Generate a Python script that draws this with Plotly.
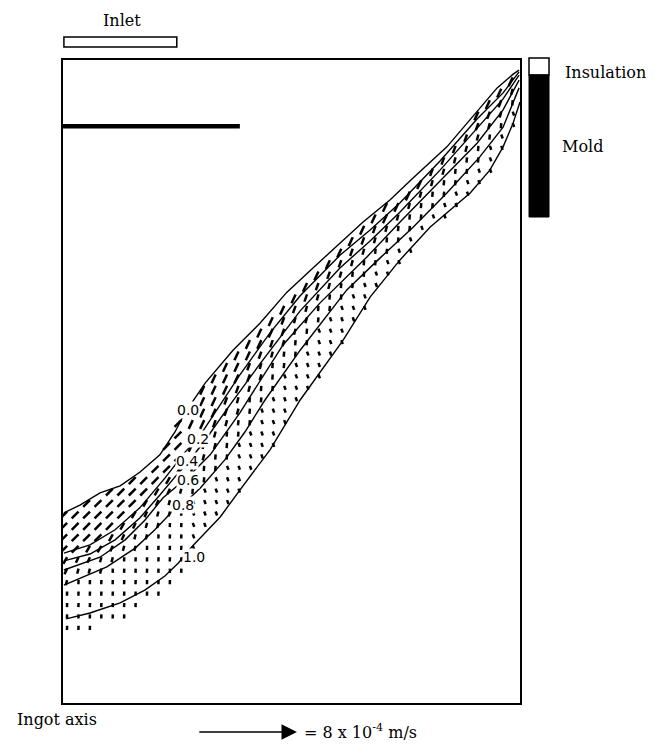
import numpy as np
import plotly.graph_objects as go

# Geometry: r = radial position (% of ingot radius, 0 = ingot axis, 100 = mold wall)
#           z = height (same units as r)
R_MAX = 100.0
Z_MAX = 140.7

# Solid-fraction isolines (liquidus 0.0 at top to solidus 1.0 at bottom)
r00 = [0.2, 3.7, 8.1, 12.5, 16.8, 21.2, 24.5, 26.7, 31.1, 37.2, 43.1, 49.0, 54.7,
       60.6, 65.6, 71.6, 76.6, 84.0, 90.6, 95.0, 98.5, 99.8]
z00 = [41.6, 43.3, 46.0, 47.5, 50.5, 54.3, 59.3, 63.5, 70.0, 77.2, 83.1, 89.9, 95.2,
       100.7, 105.2, 110.1, 114.9, 121.7, 129.3, 134.6, 137.6, 138.5]

r02 = [0.2, 5.9, 11.4, 16.8, 22.3, 26.7, 29.5, 33.3, 38.7, 45.3, 51.9, 60.6, 67.2,
       73.7, 82.5, 90.6, 96.3, 99.8]
z02 = [32.8, 34.6, 37.9, 42.7, 49.2, 54.9, 57.8, 63.7, 71.8, 81.0, 89.1, 98.0, 103.5,
       109.4, 118.6, 127.8, 133.5, 138.1]

r04 = [0.2, 5.9, 11.4, 16.8, 21.2, 24.7, 27.1, 31.1, 36.5, 43.1, 51.9, 60.6, 67.2,
       73.7, 82.5, 90.6, 96.3, 99.8]
z04 = [31.1, 32.6, 35.7, 40.5, 45.5, 49.7, 52.3, 57.5, 65.2, 74.2, 85.8, 95.2, 101.1,
       107.4, 116.6, 125.8, 132.2, 137.4]

r06 = [0.2, 8.1, 13.6, 17.9, 21.9, 25.2, 27.4, 32.2, 38.7, 48.1, 56.2, 66.5, 73.7,
       82.5, 90.6, 96.3, 99.8]
z06 = [29.1, 31.9, 35.7, 40.0, 44.9, 47.7, 49.5, 54.3, 63.5, 78.3, 87.5, 97.6, 105.2,
       114.2, 122.5, 129.8, 136.3]

r08 = [0.2, 9.6, 15.8, 20.1, 23.8, 26.3, 30.0, 35.4, 39.8, 44.2, 51.9, 62.1, 69.4,
       76.6, 84.0, 91.2, 96.3, 99.8]
z08 = [25.8, 29.8, 33.9, 37.9, 41.8, 43.5, 47.0, 53.2, 59.3, 66.3, 77.2, 90.4, 97.4,
       104.1, 111.6, 119.5, 126.0, 134.6]

r10 = [0.7, 5.9, 12.5, 17.9, 22.3, 25.2, 28.4, 34.4, 38.7, 45.3, 51.9, 61.3, 67.2,
       73.7, 80.3, 89.1, 93.4, 96.3, 98.5, 100.0]
z10 = [18.4, 19.7, 21.9, 24.7, 27.8, 30.6, 34.4, 40.7, 46.6, 55.4, 66.3, 79.4, 88.8,
       96.9, 104.1, 111.6, 116.6, 121.7, 126.9, 131.5]

fraction_labels = ["0.0", "0.2", "0.4", "0.6", "0.8", "1.0"]
label_r = [27.4, 29.5, 27.1, 27.4, 26.3, 28.6]
label_z = [64.1, 57.8, 52.9, 48.8, 43.3, 31.9]

contours = [(r00, z00), (r02, z02), (r04, z04), (r06, z06), (r08, z08), (r10, z10)]

# Interdendritic velocity, per band between neighbouring isolines
# (speed in 1e-4 m/s, flow direction in degrees from +r)
band_speed = [0.78, 0.62, 0.5, 0.42, 0.34]
foot_angle = [225, 240, 245, 255, 268]   # near the ingot axis
diag_angle = [245, 250, 255, 265, 290]   # along the inclined mushy zone
FOOT_R = 27.0         # radius separating the two regions
FOOT_EXTRA = 3.0      # vectors shown slightly below the solidus near the axis

# Computational mesh
MESH_R0, MESH_Z0, MESH_D = 0.9, 1.9, 2.5

# Reference vector: 8e-4 m/s ; VEC_SCALE = axis units per 1e-4 m/s
REF_SPEED = 8.0
VEC_SCALE = 2.71
REF_TAIL_R = 29.5

# Inlet and top bar (radial extents)
inlet_r = [0.2, 24.9]
top_bar_r = [0.0, 38.7]
top_bar_z = 126.2

fig = go.Figure()

for rr, zz in contours:
    fig.add_trace(go.Scatter(x=rr, y=zz, mode="lines",
                             line=dict(color="black", width=1.4),
                             hoverinfo="skip", showlegend=False))

# velocity vectors on the mesh nodes inside the mushy zone
vx, vy = [], []
r_nodes = np.arange(MESH_R0, R_MAX, MESH_D)
z_nodes = np.arange(MESH_Z0, Z_MAX, MESH_D)
for r in r_nodes:
    zc = [np.interp(r, rr, zz) for rr, zz in contours]
    for z in z_nodes:
        if z > zc[0]:
            continue
        band = None
        for b in range(5):
            if zc[b + 1] < z <= zc[b]:
                band = b
        if band is None:
            if r < FOOT_R and zc[5] - z < FOOT_EXTRA:
                band = 4
            else:
                continue
        ang = np.radians((foot_angle if r < FOOT_R else diag_angle)[band])
        L = band_speed[band] * VEC_SCALE
        vx += [r, r + L * np.cos(ang), None]
        vy += [z, z + L * np.sin(ang), None]

fig.add_trace(go.Scatter(x=vx, y=vy, mode="lines",
                         line=dict(color="black", width=2.5),
                         hoverinfo="skip", showlegend=False))

# thick bar near the top of the domain
fig.add_trace(go.Scatter(x=top_bar_r, y=[top_bar_z, top_bar_z], mode="lines",
                         line=dict(color="black", width=4.5),
                         hoverinfo="skip", showlegend=False))

annotations = []
for txt, lr, lz in zip(fraction_labels, label_r, label_z):
    annotations.append(dict(x=lr, y=lz, xref="x", yref="y", text=txt, showarrow=False,
                            xanchor="center", yanchor="middle",
                            font=dict(family="DejaVu Sans", size=14, color="black"),
                            bgcolor="white", borderpad=0))

serif = dict(family="DejaVu Serif", size=16, color="black")
annotations += [
    dict(x=(inlet_r[0] + inlet_r[1]) / 2 + 0.3, y=1.062, xref="x", yref="paper",
         text="Inlet", showarrow=False, xanchor="center", yanchor="middle", font=serif),
    dict(x=1.094, y=0.9813, xref="paper", yref="paper", text="Insulation",
         showarrow=False, xanchor="left", yanchor="middle", font=serif),
    dict(x=1.0875, y=0.8647, xref="paper", yref="paper", text="Mold",
         showarrow=False, xanchor="left", yanchor="middle", font=serif),
    dict(x=-0.105, y=-0.0264, xref="paper", yref="paper", text="Ingot axis",
         showarrow=False, xanchor="left", yanchor="middle", font=serif),
    dict(x=REF_TAIL_R + REF_SPEED * VEC_SCALE, y=-0.0451, xref="x", yref="paper",
         ax=REF_TAIL_R, ay=0, axref="x", ayref="pixel", text="", showarrow=True,
         arrowhead=2, arrowsize=2.2, arrowwidth=1.4, arrowcolor="black", standoff=0),
    dict(x=0.522, y=-0.0451, xref="paper", yref="paper",
         text="= 8 x 10<sup>-4</sup> m/s", showarrow=False,
         xanchor="left", yanchor="middle", font=serif),
]

shapes = [
    # inlet
    dict(type="rect", xref="x", yref="paper", x0=inlet_r[0], x1=inlet_r[1],
         y0=1.0202, y1=1.0358, line=dict(color="black", width=1.5), fillcolor="white"),
    # insulation / mold key
    dict(type="rect", xref="paper", yref="paper", x0=1.0197, x1=1.0635,
         y0=0.9767, y1=1.0031, line=dict(color="black", width=1.5), fillcolor="white"),
    dict(type="rect", xref="paper", yref="paper", x0=1.0197, x1=1.0635,
         y0=0.7558, y1=0.9767, line=dict(color="black", width=1), fillcolor="black"),
]

axis_common = dict(showgrid=False, zeroline=False, showticklabels=False, ticks="",
                   showline=True, mirror=True, linecolor="black", linewidth=2)

fig.update_layout(
    width=655, height=744,
    margin=dict(l=63, r=135, t=60, b=41),
    paper_bgcolor="white", plot_bgcolor="white",
    xaxis=dict(range=[0, R_MAX], **axis_common),
    yaxis=dict(range=[0, Z_MAX], **axis_common),
    annotations=annotations, shapes=shapes,
    showlegend=False,
)

fig.write_html("out.html")
